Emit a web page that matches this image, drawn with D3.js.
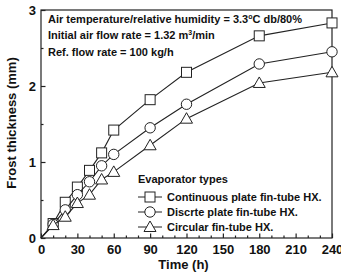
<!DOCTYPE html>
<html>
<head>
<meta charset="utf-8">
<script src="https://cdn.jsdelivr.net/npm/d3@7"></script>
<style>
  body { margin: 0; background: white; }
  text { font-family: "Liberation Sans", Arial, sans-serif; }
</style>
</head>
<body>
<svg id="chart" width="341" height="280"></svg>
<script>
// Datos
const times = [0, 10, 20, 30, 40, 50, 60, 90, 120, 180, 240]
const continuous = [0, 0.19, 0.47, 0.67, 0.89, 1.12, 1.42, 1.82, 2.18, 2.66, 2.83]
const discrete = [0, 0.18, 0.37, 0.57, 0.74, 0.95, 1.1, 1.45, 1.76, 2.29, 2.45]
const circular = [0, 0.17, 0.28, 0.46, 0.57, 0.77, 0.87, 1.22, 1.57, 2.04, 2.18]
const xTicks = [0, 30, 60, 90, 120, 150, 180, 210, 240]
const xMinorTicks = d3.range(10, 240, 10).filter(v => v % 30 !== 0)
const yTicks = [0, 1, 2, 3]
const yMinorTicks = [0.5, 1.5, 2.5]
const seriesNames = ['Continuous plate fin-tube HX.', 'Discrte plate fin-tube HX.', 'Circular fin-tube HX.']
const seriesShapes = ['square', 'circle', 'triangle']

const svg = d3.select('#chart')
const margin = { top: 10, right: 9, bottom: 42, left: 41 }
const width = +svg.attr('width')
const height = +svg.attr('height')
const innerWidth = width - margin.left - margin.right
const innerHeight = height - margin.top - margin.bottom

const g = svg.append('g')
    .attr('transform', `translate(${margin.left}, ${margin.top})`)

const xScale = d3.scaleLinear().domain([0, 240]).range([0, innerWidth])
const yScale = d3.scaleLinear().domain([0, 3]).range([innerHeight, 0])

// Marco
g.append('rect')
    .attr('width', innerWidth)
    .attr('height', innerHeight)
    .attr('fill', 'none')
    .attr('stroke', '#222')
    .attr('stroke-width', 1.2)

// Ejes con ticks hacia adentro
const xAxis = g.append('g')
    .attr('transform', `translate(0, ${innerHeight})`)
    .call(d3.axisBottom(xScale).tickValues(xTicks).tickSize(-4.5).tickPadding(7).tickFormat(d3.format('d')))
const xMinor = g.append('g')
    .attr('transform', `translate(0, ${innerHeight})`)
    .call(d3.axisBottom(xScale).tickValues(xMinorTicks).tickSize(-2.5).tickFormat(''))
const yAxis = g.append('g')
    .call(d3.axisLeft(yScale).tickValues(yTicks).tickSize(-4.5).tickPadding(5).tickFormat(d3.format('d')))
const yMinor = g.append('g')
    .call(d3.axisLeft(yScale).tickValues(yMinorTicks).tickSize(-2.5).tickFormat(''))

;[xAxis, xMinor, yAxis, yMinor].forEach(a => {
    a.select('.domain').remove()
    a.selectAll('.tick line').attr('stroke', '#222').attr('stroke-width', 1.2)
    a.selectAll('.tick text')
        .attr('fill', '#111')
        .style('font-size', '13px')
        .style('font-weight', 'bold')
})
// los ticks menores no llevan texto
;[xMinor, yMinor].forEach(a => a.selectAll('.tick text').remove())

// Titulos de ejes
g.append('text')
    .attr('x', innerWidth / 2 - 3)
    .attr('y', innerHeight + 31)
    .attr('text-anchor', 'middle')
    .style('font-size', '13px')
    .style('font-weight', 'bold')
    .attr('fill', '#111')
    .text('Time (h)')

g.append('text')
    .attr('transform', `translate(-25, ${innerHeight / 2 - 1}) rotate(-90)`)
    .attr('text-anchor', 'middle')
    .style('font-size', '13px')
    .style('font-weight', 'bold')
    .attr('fill', '#111')
    .text('Frost thickness (mm)')

// Simbolos
const drawMarker = (sel, shape, x, y) => {
    if (shape === 'square') {
        sel.append('rect')
            .attr('x', x - 5).attr('y', y - 5)
            .attr('width', 10).attr('height', 10)
            .attr('fill', 'white').attr('stroke', '#222').attr('stroke-width', 1)
    } else if (shape === 'circle') {
        sel.append('circle')
            .attr('cx', x).attr('cy', y).attr('r', 5.2)
            .attr('fill', 'white').attr('stroke', '#222').attr('stroke-width', 1)
    } else {
        sel.append('path')
            .attr('d', `M${x},${y - 6}L${x + 6},${y + 4.5}L${x - 6},${y + 4.5}Z`)
            .attr('fill', 'white').attr('stroke', '#222').attr('stroke-width', 1)
    }
}

const line = d3.line()
    .x(d => xScale(d.t))
    .y(d => yScale(d.v))

;[continuous, discrete, circular].forEach((values, i) => {
    const data = times.map((t, j) => ({ t: t, v: values[j] }))
    g.append('path')
        .datum(data)
        .attr('d', line)
        .attr('fill', 'none')
        .attr('stroke', '#222')
        .attr('stroke-width', 1.1)
    const mg = g.append('g')
    data.slice(1).forEach(d => drawMarker(mg, seriesShapes[i], xScale(d.t), yScale(d.v)))
})

// Anotaciones
const notes = g.append('g').attr('transform', 'translate(7, 0)')
    .style('font-size', '11px').style('font-weight', 'bold').attr('fill', '#111')
const t1 = notes.append('text').attr('y', 13)
t1.append('tspan').text('Air temperature/relative humidity = 3.3')
t1.append('tspan').attr('dy', -4).style('font-size', '7px').text('o')
t1.append('tspan').attr('dy', 4).text('C db/80%')
const t2 = notes.append('text').attr('y', 29)
t2.append('tspan').text('Initial air flow rate = 1.32 m')
t2.append('tspan').attr('dy', -4).style('font-size', '7px').text('3')
t2.append('tspan').attr('dy', 4).text('/min')
notes.append('text').attr('y', 46).text('Ref. flow rate = 100 kg/h')

// Leyenda
const legend = g.append('g').attr('transform', 'translate(97, 173)')
legend.append('text')
    .attr('x', 0).attr('y', 0)
    .style('font-size', '11px').style('font-weight', 'bold').attr('fill', '#111')
    .text('Evaporator types')
seriesNames.forEach((name, i) => {
    const y = 14 + i * 15
    legend.append('line')
        .attr('x1', 0).attr('x2', 24).attr('y1', y).attr('y2', y)
        .attr('stroke', '#222').attr('stroke-width', 1)
    drawMarker(legend, seriesShapes[i], 12, y)
    legend.append('text')
        .attr('x', 29).attr('y', y + 4)
        .style('font-size', '11px').style('font-weight', 'bold').attr('fill', '#111')
        .text(name)
})
</script>
</body>
</html>
